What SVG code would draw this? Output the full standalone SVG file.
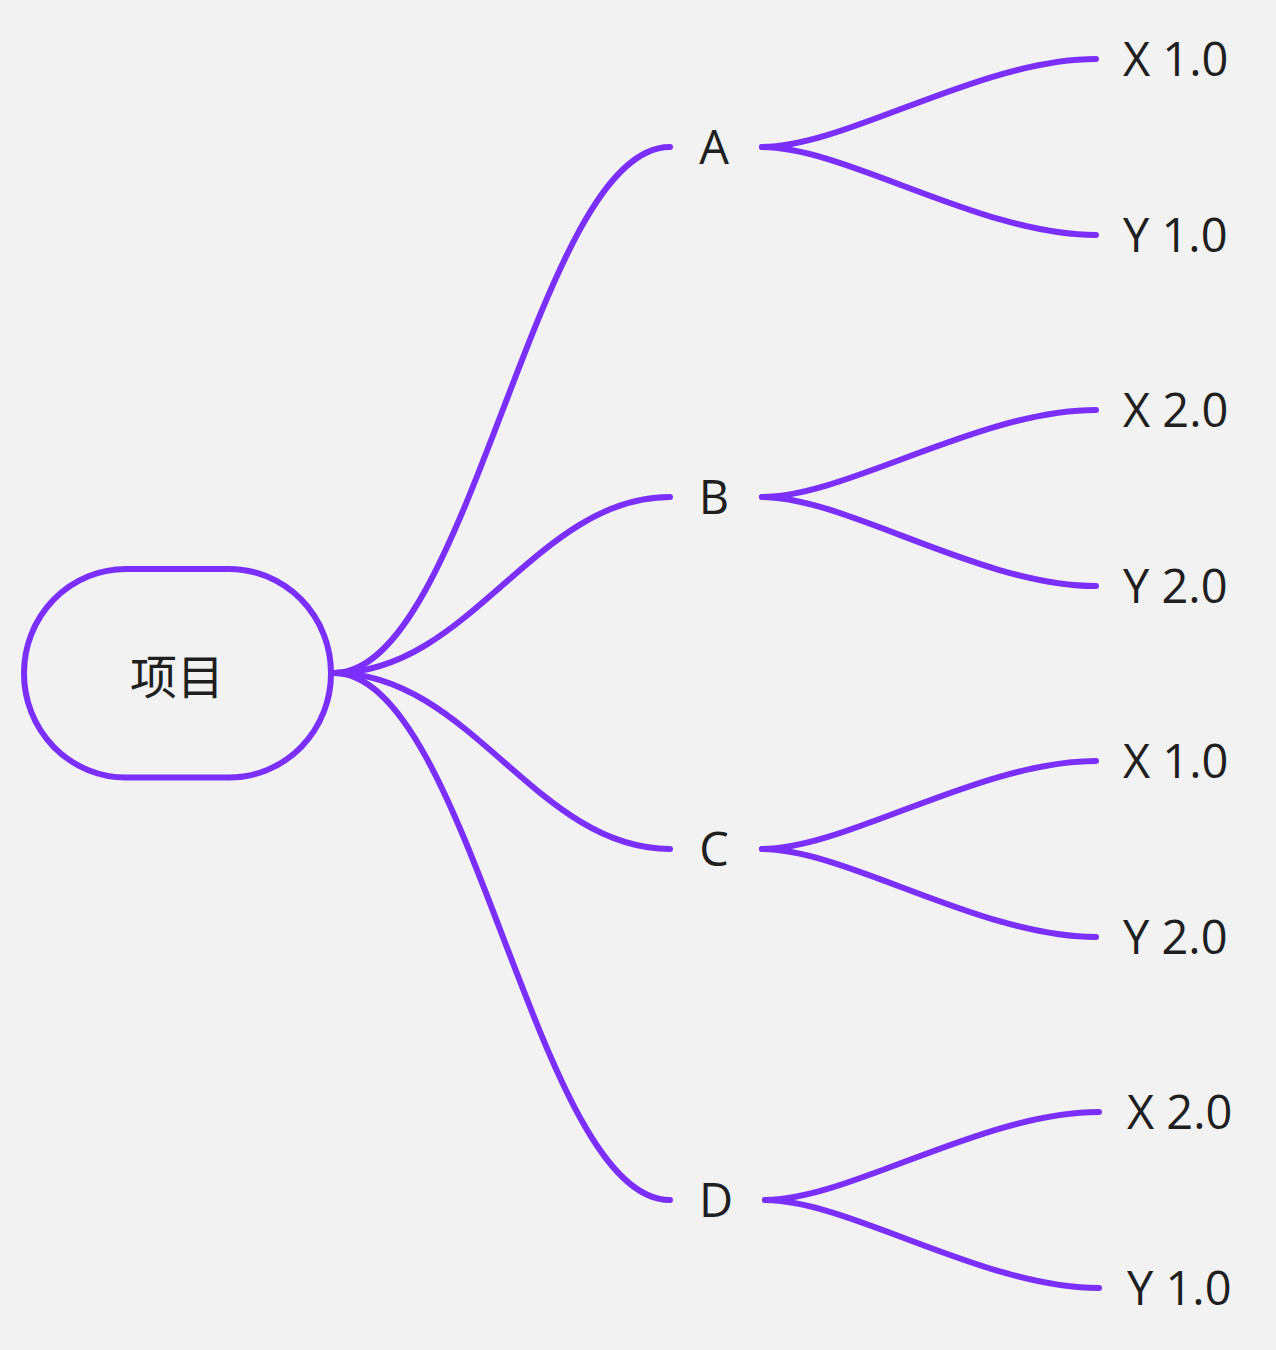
<svg xmlns="http://www.w3.org/2000/svg" width="1276" height="1350" viewBox="0 0 1276 1350">
<style>
.edge{fill:none;stroke:#7b2ffa;stroke-width:6;stroke-linecap:round}
.lbl{font-family:"Open Sans","Noto Sans","Noto Sans CJK SC",sans-serif;font-size:47px;fill:#1f1f1f}
.mid{text-anchor:middle}
</style>
<rect width="1276" height="1350" fill="#f2f2f2"/>
<g id="connectors">
<path class="edge" d="M334,673 C470,673 536,147 670,147"/>
<path class="edge" d="M334,673 C470,673 536,497 670,497"/>
<path class="edge" d="M334,673 C470,673 536,849 670,849"/>
<path class="edge" d="M334,673 C470,673 536,1200 670,1200"/>
<path class="edge" d="M762,147 C846,147 980,59 1096,59"/>
<path class="edge" d="M762,147 C846,147 980,235 1096,235"/>
<path class="edge" d="M762,497 C846,497 980,410 1096,410"/>
<path class="edge" d="M762,497 C846,497 980,586 1096,586"/>
<path class="edge" d="M762,849 C846,849 980,761 1096,761"/>
<path class="edge" d="M762,849 C846,849 980,937 1096,937"/>
<path class="edge" d="M765,1200 C849,1200 983,1112 1099,1112"/>
<path class="edge" d="M765,1200 C849,1200 983,1288 1099,1288"/>
</g>
<g id="root">
<rect x="24" y="569" width="307" height="208.5" rx="102" ry="104" fill="#f2f2f2" stroke="#7b2ffa" stroke-width="6"/>
<text class="lbl mid" x="177" y="673" dominant-baseline="central" style="font-family:'Noto Sans CJK SC','Open Sans',sans-serif">项目</text>
</g>
<g id="nodeA"><text class="lbl mid" x="714" y="163.5">A</text></g>
<g id="nodeB"><text class="lbl mid" x="714" y="513.5">B</text></g>
<g id="nodeC"><text class="lbl mid" x="714" y="865.5">C</text></g>
<g id="nodeD"><text class="lbl mid" x="716" y="1216.5">D</text></g>
<g id="leafA1"><text class="lbl" x="1123" y="75.7">X 1.0</text></g>
<g id="leafA2"><text class="lbl" x="1123" y="251.7">Y 1.0</text></g>
<g id="leafB1"><text class="lbl" x="1123" y="426.7">X 2.0</text></g>
<g id="leafB2"><text class="lbl" x="1123" y="602.7">Y 2.0</text></g>
<g id="leafC1"><text class="lbl" x="1123" y="777.7">X 1.0</text></g>
<g id="leafC2"><text class="lbl" x="1123" y="953.7">Y 2.0</text></g>
<g id="leafD1"><text class="lbl" x="1127" y="1128.7">X 2.0</text></g>
<g id="leafD2"><text class="lbl" x="1127" y="1304.7">Y 1.0</text></g>
</svg>
